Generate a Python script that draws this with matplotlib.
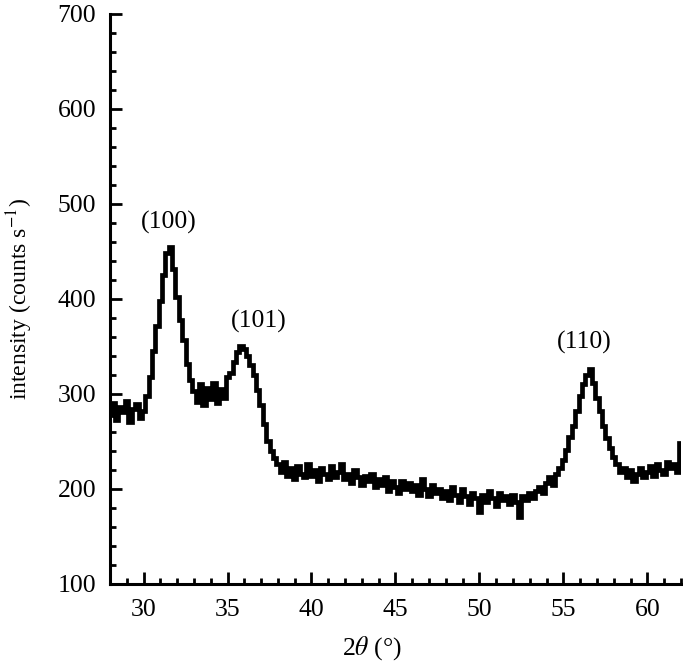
import numpy as np
import matplotlib.pyplot as plt
from matplotlib.ticker import MultipleLocator

plt.rcParams['font.family'] = 'Liberation Serif'
plt.rcParams['mathtext.fontset'] = 'stix'

# 2theta scan grid (0.2 deg steps) and intensities
two_theta = np.round(np.arange(28.0, 62.01, 0.2), 1)
intensity = [
    278, 290, 272, 286, 281, 293, 270, 284, 289, 275,   # 28.0 - 29.8
    282, 298, 318, 345, 372, 398, 425, 448, 455, 432,   # 30.0 - 31.8
    402, 378, 357, 332, 315, 303, 292, 310, 288, 306,   # 32.0 - 33.8
    295, 312, 290, 305, 296, 318, 322, 334, 344, 350,   # 34.0 - 35.8
    347, 340, 330, 320, 304, 288, 268, 250, 240, 232,   # 36.0 - 37.8
    226, 218, 228, 214, 222, 210, 224, 216, 212, 226,   # 38.0 - 39.8
    214, 220, 208, 222, 216, 210, 224, 212, 218, 226,   # 40.0 - 41.8
    210, 216, 206, 220, 212, 204, 214, 208, 216, 202,   # 42.0 - 43.8
    210, 204, 212, 198, 208, 202, 196, 208, 200, 206,   # 44.0 - 45.8
    198, 204, 194, 210, 200, 192, 204, 196, 200, 190,   # 46.0 - 47.8
    198, 188, 202, 194, 186, 200, 192, 184, 196, 190,   # 48.0 - 49.8
    176, 194, 186, 198, 190, 182, 196, 188, 192, 184,   # 50.0 - 51.8
    194, 186, 170, 192, 188, 196, 190, 198, 202, 196,   # 52.0 - 53.8
    206, 212, 204, 216, 222, 230, 241, 255, 266, 282,   # 54.0 - 55.8
    298, 310, 320, 326, 312, 296, 282, 266, 254, 243,   # 56.0 - 57.8
    234, 226, 218, 222, 212, 220, 208, 216, 222, 212,   # 58.0 - 59.8
    218, 224, 214, 226, 220, 216, 228, 222, 226, 218,   # 60.0 - 61.8
    248,                                                # 62.0
]

peak_labels = ['(100)', '(101)', '(110)']
peak_x = [31.5, 36.85, 56.25]
peak_y = [481, 376, 354]

fig = plt.figure(figsize=(6.83, 6.65), dpi=100)
ax = fig.add_axes([0.161, 0.122, 0.836, 0.857])

ax.plot(two_theta, intensity, color='black', lw=3.4, drawstyle='steps-mid',
        solid_joinstyle='miter')

for lab, px, py in zip(peak_labels, peak_x, peak_y):
    ax.text(px, py, lab, ha='center', va='center', fontsize=18.5)

ax.set_xlim(28, 62)
ax.set_ylim(100, 700)
ax.xaxis.set_major_locator(MultipleLocator(5))
ax.xaxis.set_minor_locator(MultipleLocator(1))
ax.yaxis.set_major_locator(MultipleLocator(100))
ax.yaxis.set_minor_locator(MultipleLocator(20))

ax.spines['top'].set_visible(False)
ax.spines['right'].set_visible(False)
ax.spines['left'].set_linewidth(2.2)
ax.spines['bottom'].set_linewidth(2.2)
ax.tick_params(which='major', direction='in', length=8.5, width=2, labelsize=18.5)
ax.tick_params(which='minor', direction='in', length=4.5, width=2)
ax.tick_params(axis='y', pad=10)
ax.tick_params(axis='x', pad=11)

ax.set_xlabel(r'2$\theta$ (°)', fontsize=18.5)
ax.set_ylabel(r'intensity (counts s$^{-1}$)', fontsize=17)
ax.xaxis.set_label_coords(0.459, -0.088)
ax.yaxis.set_label_coords(-0.132, 0.5)

plt.savefig('out.png', dpi=100)
